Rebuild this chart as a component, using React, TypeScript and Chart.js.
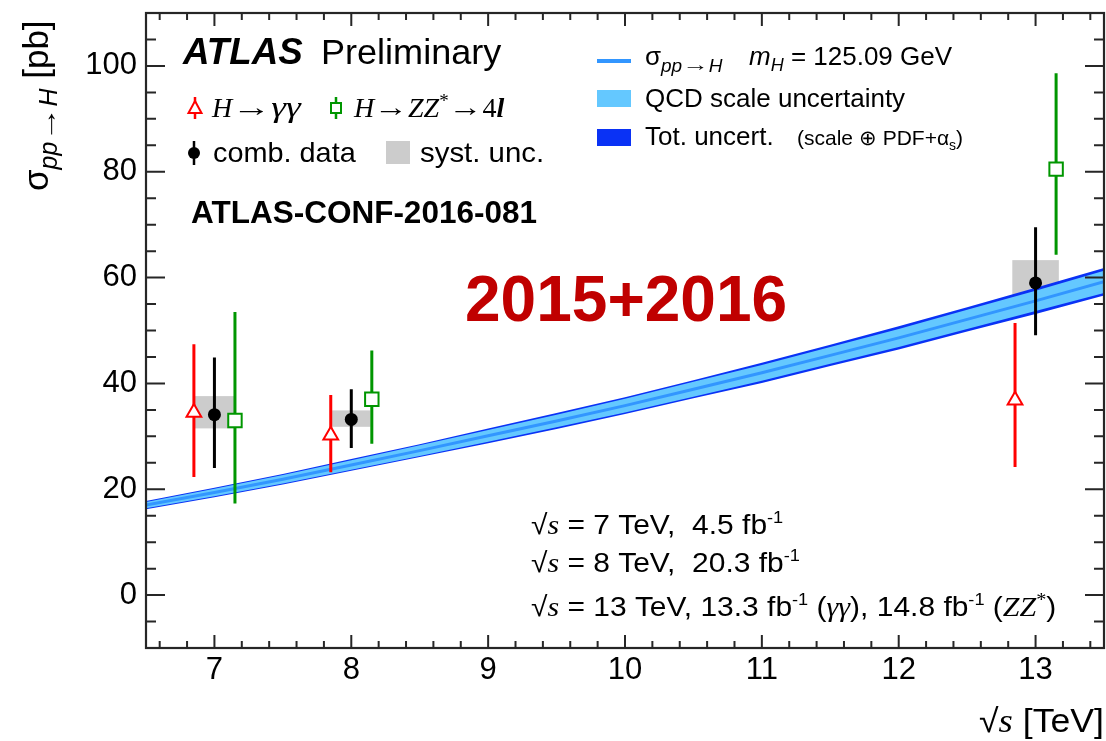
import React, { useEffect, useRef } from 'react';
import { Chart, registerables } from 'chart.js';

Chart.register(...registerables);

const SANS = "'Liberation Sans', Arial, Helvetica, sans-serif";
const SERIF = "'Liberation Serif', 'Times New Roman', serif";

// axis ticks
const xTicks = [7, 8, 9, 10, 11, 12, 13];
const yTicks = [0, 20, 40, 60, 80, 100];

// theory prediction sigma(pp->H) vs sqrt(s)
const thEnergy = [6.5, 7, 7.5, 8, 8.5, 9, 9.5, 10, 10.5, 11, 11.5, 12, 12.5, 13, 13.5];
const thCentral = [17.0, 19.4, 21.9, 24.6, 27.3, 30.1, 32.9, 35.8, 38.9, 42.0, 45.3, 48.6, 52.1, 55.6, 59.2];
const thTotUp = [17.8, 20.3, 22.9, 25.7, 28.5, 31.5, 34.4, 37.4, 40.6, 43.9, 47.3, 50.8, 54.4, 58.1, 61.8];
const thTotDown = [16.2, 18.5, 20.9, 23.5, 26.1, 28.7, 31.4, 34.2, 37.2, 40.1, 43.3, 46.4, 49.8, 53.1, 56.6];
const thScaleUp = [17.6, 20.1, 22.7, 25.5, 28.3, 31.2, 34.1, 37.1, 40.3, 43.5, 46.9, 50.3, 53.9, 57.5, 61.3];
const thScaleDown = [16.4, 18.7, 21.1, 23.7, 26.3, 29.0, 31.7, 34.5, 37.5, 40.5, 43.7, 46.9, 50.3, 53.7, 57.1];

// H -> gamma gamma
const yyX = [6.85, 7.85, 12.85];
const yyY = [34.5, 30.2, 36.8];
const yyHi = [47.4, 37.8, 51.4];
const yyLo = [22.3, 23.2, 24.2];

// H -> ZZ* -> 4l
const zzX = [7.15, 8.15, 13.15];
const zzY = [33.0, 37.0, 80.5];
const zzHi = [53.5, 46.2, 98.6];
const zzLo = [17.3, 28.6, 64.3];

// combined data
const combX = [7, 8, 13];
const combY = [34.1, 33.2, 59.0];
const combHi = [44.9, 38.9, 69.5];
const combLo = [24.0, 27.8, 49.1];

// systematic uncertainty boxes
const systXL = [6.85, 7.86, 12.83];
const systXR = [7.15, 8.14, 13.17];
const systLo = [31.5, 31.8, 55.6];
const systHi = [37.6, 34.9, 63.3];

const RED = 'rgb(255,0,0)';
const GREEN = 'rgb(0,150,0)';
const BLACK = '#000';
const GRAY = 'rgb(204,204,204)';
const BLUE_TOT = 'rgb(10,50,245)';
const BLUE_SCALE = 'rgb(100,200,255)';
const BLUE_LINE = 'rgb(50,150,255)';

const pts = (xs: number[], ys: number[]) => xs.map((x, i) => ({ x, y: ys[i] }));
const bars = (xs: number[], lo: number[], hi: number[]) => {
  const d: any[] = [];
  xs.forEach((x, i) => {
    d.push({ x, y: lo[i] }, { x, y: hi[i] }, { x, y: null });
  });
  return d;
};

type Run = [string, string, number?, number?];
function rich(ctx: CanvasRenderingContext2D, x: number, y: number, runs: Run[], gsx = 1) {
  let cx = x;
  for (const [t, f, dy, sx] of runs) {
    const s = (sx || 1) * gsx;
    ctx.font = f;
    ctx.save();
    ctx.translate(cx, y + (dy || 0));
    ctx.scale(s, 1);
    ctx.fillText(t, 0, 0);
    ctx.restore();
    cx += ctx.measureText(t).width * s;
  }
  return cx;
}
function richWidth(ctx: CanvasRenderingContext2D, runs: Run[], gsx = 1) {
  let w = 0;
  for (const [t, f, , sx] of runs) {
    ctx.font = f;
    w += ctx.measureText(t).width * (sx || 1) * gsx;
  }
  return w;
}

const boxPlugin = {
  id: 'systBoxes',
  beforeDatasetsDraw(chart: any) {
    const { ctx, scales } = chart;
    const sx = scales.x, sy = scales.y;
    ctx.save();
    ctx.fillStyle = GRAY;
    systXL.forEach((xl, i) => {
      const x0 = sx.getPixelForValue(xl), x1 = sx.getPixelForValue(systXR[i]);
      const y0 = sy.getPixelForValue(systHi[i]), y1 = sy.getPixelForValue(systLo[i]);
      ctx.fillRect(x0, y0, x1 - x0, y1 - y0);
    });
    ctx.restore();
  },
};

const framePlugin = {
  id: 'frame',
  afterDraw(chart: any) {
    const { ctx, chartArea: a, scales } = chart;
    const sx = scales.x, sy = scales.y;
    ctx.save();
    ctx.strokeStyle = '#262626';
    ctx.lineWidth = 2.2;
    ctx.strokeRect(a.left, a.top, a.right - a.left, a.bottom - a.top);
    ctx.lineWidth = 2;
    ctx.beginPath();
    for (let v = 6.6; v < 13.45; v += 0.2) {
      const r = Math.round(v * 10) / 10;
      const major = Math.abs(r - Math.round(r)) < 1e-6;
      const len = major ? 13 : 7;
      const px = sx.getPixelForValue(r);
      ctx.moveTo(px, a.bottom);
      ctx.lineTo(px, a.bottom - len);
      ctx.moveTo(px, a.top);
      ctx.lineTo(px, a.top + len);
    }
    for (let v = -5; v <= 105; v += 5) {
      const major = v % 20 === 0;
      const len = major ? 19 : 10;
      const py = sy.getPixelForValue(v);
      ctx.moveTo(a.left, py);
      ctx.lineTo(a.left + len, py);
      ctx.moveTo(a.right, py);
      ctx.lineTo(a.right - len, py);
    }
    ctx.stroke();
    ctx.restore();
  },
};

const textPlugin = {
  id: 'texts',
  afterDraw(chart: any) {
    const ctx: CanvasRenderingContext2D = chart.ctx;
    ctx.save();
    ctx.fillStyle = '#000';
    ctx.textBaseline = 'alphabetic';
    ctx.textAlign = 'left';

    // ATLAS Preliminary
    rich(ctx, 183, 64, [['ATLAS', `italic bold 36px ${SANS}`]], 1.02);
    rich(ctx, 321, 64, [['Preliminary', `35px ${SANS}`]], 1.03);

    const drawBar = (x: number, y0: number, y1: number, color: string) => {
      ctx.strokeStyle = color;
      ctx.lineWidth = 2.5;
      ctx.beginPath();
      ctx.moveTo(x, y0);
      ctx.lineTo(x, y1);
      ctx.stroke();
    };
    // left legend row 1
    drawBar(195, 97, 119, RED);
    ctx.beginPath();
    ctx.moveTo(195, 101);
    ctx.lineTo(201.5, 113);
    ctx.lineTo(188.5, 113);
    ctx.closePath();
    ctx.fillStyle = '#fff';
    ctx.fill();
    ctx.strokeStyle = RED;
    ctx.lineWidth = 2;
    ctx.stroke();
    ctx.fillStyle = '#000';
    rich(ctx, 212, 117, [
      ['H', `italic 28px ${SERIF}`],
      ['\u2192', `26px ${SANS}`, -1, 1.5],
      ['\u03b3\u03b3', `italic 30px ${SERIF}`, 0, 1.25],
    ]);
    drawBar(336, 97, 119, GREEN);
    ctx.fillStyle = '#fff';
    ctx.fillRect(331, 103, 10, 10);
    ctx.strokeStyle = GREEN;
    ctx.lineWidth = 2;
    ctx.strokeRect(331, 103, 10, 10);
    ctx.fillStyle = '#000';
    rich(ctx, 354, 117, [
      ['H', `italic 28px ${SERIF}`],
      ['\u2192', `26px ${SANS}`, -1, 1.3],
      ['ZZ', `italic 28px ${SERIF}`],
      ['*', `19px ${SERIF}`, -10],
      ['\u2192', `26px ${SANS}`, -1, 1.3],
      ['4', `28px ${SERIF}`],
      ['l', `italic bold 28px ${SERIF}`],
    ]);

    // left legend row 2
    drawBar(194, 141, 165, BLACK);
    ctx.fillStyle = '#000';
    ctx.beginPath();
    ctx.arc(194, 153, 6, 0, Math.PI * 2);
    ctx.fill();
    rich(ctx, 213, 162, [['comb. data', `28px ${SANS}`]], 1.03);
    ctx.fillStyle = GRAY;
    ctx.fillRect(386, 141, 24, 23);
    ctx.fillStyle = '#000';
    rich(ctx, 420, 162, [['syst. unc.', `28px ${SANS}`]], 1.05);

    // conf note
    rich(ctx, 191, 223, [['ATLAS-CONF-2016-081', `bold 31.5px ${SANS}`]]);

    // big red label
    ctx.fillStyle = 'rgb(192,0,0)';
    rich(ctx, 465, 321, [['2015+2016', `bold 64px ${SANS}`]]);
    ctx.fillStyle = '#000';

    // right legend
    ctx.strokeStyle = BLUE_LINE;
    ctx.lineWidth = 4;
    ctx.beginPath();
    ctx.moveTo(597, 61);
    ctx.lineTo(631, 61);
    ctx.stroke();
    rich(ctx, 645, 65, [
      ['\u03c3', `26px ${SANS}`],
      ['pp', `italic 19px ${SANS}`, 7],
      ['\u2192', `19px ${SANS}`, 6, 1.4],
      ['H', `italic 19px ${SANS}`, 7],
    ]);
    rich(ctx, 749, 65, [
      ['m', `italic 26px ${SANS}`],
      ['H', `italic 18px ${SANS}`, 6],
      [' = 125.09 GeV', `26px ${SANS}`],
    ]);
    ctx.fillStyle = BLUE_SCALE;
    ctx.fillRect(597, 90, 34, 17);
    ctx.fillStyle = '#000';
    rich(ctx, 645, 107, [['QCD scale uncertainty', `26px ${SANS}`]]);
    ctx.fillStyle = BLUE_TOT;
    ctx.fillRect(597, 129, 34, 17);
    ctx.fillStyle = '#000';
    rich(ctx, 645, 145, [['Tot. uncert.', `26px ${SANS}`]]);
    rich(ctx, 797, 145, [
      ['(scale \u2295 PDF+\u03b1', `21px ${SANS}`],
      ['s', `14px ${SANS}`, 5],
      [')', `21px ${SANS}`],
    ]);

    // sqrt(s) / luminosity block
    const F = `28px ${SANS}`;
    const FI = `italic 28px ${SERIF}`;
    const FS = `17px ${SANS}`;
    const sq: Run[] = [['\u221a', F], ['s', FI]];
    const g = 1.07;
    rich(ctx, 531, 534, [...sq, [' = 7 TeV,  4.5 fb', F], ['-1', FS, -11]], g);
    rich(ctx, 531, 572, [...sq, [' = 8 TeV,  20.3 fb', F], ['-1', FS, -11]], g);
    rich(ctx, 531, 616, [
      ...sq,
      [' = 13 TeV, 13.3 fb', F],
      ['-1', FS, -11],
      [' (', F],
      ['\u03b3\u03b3', FI],
      ['), 14.8 fb', F],
      ['-1', FS, -11],
      [' (', F],
      ['ZZ', FI],
      ['*', `19px ${SERIF}`, -10],
      [')', F],
    ], g);

    // x axis title
    const xt: Run[] = [
      ['\u221a', `33px ${SANS}`],
      ['s', `italic 34px ${SERIF}`],
      [' [TeV]', `33px ${SANS}`],
    ];
    const w = richWidth(ctx, xt, 1.08);
    rich(ctx, 1104 - w, 732, xt, 1.08);

    // y axis title (rotated)
    ctx.save();
    ctx.translate(48, 191);
    ctx.rotate(-Math.PI / 2);
    rich(ctx, 0, 0, [
      ['\u03c3', `35px ${SANS}`],
      ['pp', `italic 25px ${SANS}`, 9],
      ['\u2192', `25px ${SANS}`, 8, 1.4],
      ['H', `italic 25px ${SANS}`, 9],
      [' [pb]', `35px ${SANS}`],
    ]);
    ctx.restore();

    ctx.restore();
  },
};

const zeroPad = (s: any) => {
  s.paddingTop = 0;
  s.paddingBottom = 0;
  s.paddingLeft = 0;
  s.paddingRight = 0;
};

export default function App() {
  const ref = useRef<HTMLCanvasElement>(null);
  useEffect(() => {
    if (!ref.current) return;
    const chart = new Chart(ref.current, {
      type: 'line',
      data: {
        datasets: [
          { data: pts(thEnergy, thTotUp), fill: '+1', backgroundColor: BLUE_TOT, borderWidth: 0, pointRadius: 0, order: 10 } as any,
          { data: pts(thEnergy, thTotDown), fill: false, borderWidth: 0, pointRadius: 0, order: 10 } as any,
          { data: pts(thEnergy, thScaleUp), fill: '+1', backgroundColor: BLUE_SCALE, borderWidth: 0, pointRadius: 0, order: 9 } as any,
          { data: pts(thEnergy, thScaleDown), fill: false, borderWidth: 0, pointRadius: 0, order: 9 } as any,
          { data: pts(thEnergy, thCentral), fill: false, borderColor: BLUE_LINE, borderWidth: 3, pointRadius: 0, order: 8 } as any,
          { data: bars(yyX, yyLo, yyHi), borderColor: RED, borderWidth: 3, pointRadius: 0, spanGaps: false, fill: false, order: 3 } as any,
          { data: bars(zzX, zzLo, zzHi), borderColor: GREEN, borderWidth: 3, pointRadius: 0, spanGaps: false, fill: false, order: 3 } as any,
          { data: bars(combX, combLo, combHi), borderColor: BLACK, borderWidth: 3, pointRadius: 0, spanGaps: false, fill: false, order: 3 } as any,
          { data: pts(yyX, yyY), showLine: false, pointStyle: 'triangle', pointRadius: 8.5, pointBackgroundColor: '#fff', pointBorderColor: RED, pointBorderWidth: 2, order: 1 } as any,
          { data: pts(zzX, zzY), showLine: false, pointStyle: 'rect', pointRadius: 9.5, pointBackgroundColor: '#fff', pointBorderColor: GREEN, pointBorderWidth: 2, order: 1 } as any,
          { data: pts(combX, combY), showLine: false, pointStyle: 'circle', pointRadius: 6.5, pointBackgroundColor: BLACK, pointBorderColor: BLACK, pointBorderWidth: 0, order: 0 } as any,
        ],
      },
      options: {
        animation: false,
        responsive: true,
        maintainAspectRatio: false,
        events: [],
        elements: { line: { tension: 0 } },
        layout: { autoPadding: false, padding: { top: 13, right: 2, left: 0, bottom: 0 } },
        plugins: { legend: { display: false }, tooltip: { enabled: false } },
        scales: {
          x: {
            type: 'linear',
            min: 6.5,
            max: 13.5,
            grid: { display: false, drawTicks: false },
            border: { display: false },
            afterBuildTicks: (s: any) => { s.ticks = xTicks.map((v) => ({ value: v })); },
            afterFit: (s: any) => { s.height = 93; zeroPad(s); },
            ticks: { font: { family: SANS, size: 31 }, color: '#000', padding: 4, maxRotation: 0, autoSkip: false },
          },
          y: {
            type: 'linear',
            min: -10,
            max: 110,
            grid: { display: false, drawTicks: false },
            border: { display: false },
            afterBuildTicks: (s: any) => { s.ticks = yTicks.map((v) => ({ value: v })); },
            afterFit: (s: any) => { s.width = 146; zeroPad(s); },
            ticks: { font: { family: SANS, size: 31 }, color: '#000', padding: 9, autoSkip: false },
          },
        },
      } as any,
      plugins: [boxPlugin, framePlugin, textPlugin],
    });
    return () => chart.destroy();
  }, []);
  return (
    <div style={{ position: 'absolute', left: 0, top: 0, width: 1106, height: 741, background: '#fff' }}>
      <canvas ref={ref} />
    </div>
  );
}
